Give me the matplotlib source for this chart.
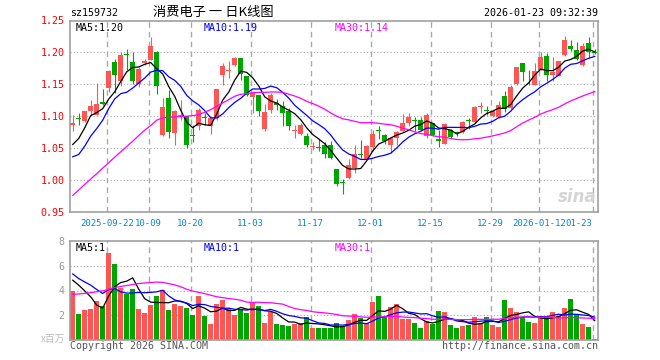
import numpy as np
import matplotlib
matplotlib.use("Agg")
import matplotlib.pyplot as plt

# sz159732 daily k-line, index 0 = 2025-09-12 ... index 87 = 2026-01-23
opens = [1.0865, 1.0963, 1.0922, 1.1089, 1.1026, 1.1224, 1.1443, 1.1854, 1.1547, 1.1969,
         1.1849, 1.1510, 1.1833, 1.1885, 1.2000, 1.0714, 1.1286, 1.0740, 1.1000, 1.1010,
         1.0703, 1.0844, 1.0979, 1.0844, 1.0974, 1.1651, 1.1714, 1.1802, 1.1917, 1.1635,
         1.1297, 1.1338, 1.0802, 1.1104, 1.1208, 1.1167, 1.1078, 1.0776, 1.0729, 1.0698,
         1.0516, 1.0510, 1.0542, 1.0542, 1.0167, 0.9963, 1.0036, 1.0193, 1.0401, 1.0333,
         1.0521, 1.0781, 1.0714, 1.0557, 1.0661, 1.0766, 1.0896, 1.0943, 1.0948, 1.0698,
         1.0896, 1.0646, 1.0573, 1.0792, 1.0745, 1.0750, 1.0943, 1.0906, 1.1141, 1.1099,
         1.1010, 1.0990, 1.1323, 1.1130, 1.1510, 1.1833, 1.1604, 1.1495, 1.1729, 1.1948,
         1.1651, 1.1635, 1.1964, 1.2094, 1.2031, 1.1807, 1.2146, 1.2010]
highs = [1.1026, 1.1052, 1.1089, 1.1260, 1.1521, 1.1427, 1.1729, 1.1896, 1.2000, 1.2052,
         1.2000, 1.1771, 1.1896, 1.2240, 1.2016, 1.1286, 1.1417, 1.1104, 1.1260, 1.1010,
         1.0870, 1.1130, 1.1052, 1.0990, 1.1427, 1.1833, 1.1859, 1.1927, 1.1917, 1.1635,
         1.1365, 1.1338, 1.1198, 1.1365, 1.1271, 1.1245, 1.1130, 1.0870, 1.0896, 1.0740,
         1.0594, 1.0646, 1.0594, 1.0609, 1.0177, 1.0010, 1.0333, 1.0542, 1.0635, 1.0557,
         1.0781, 1.0844, 1.0729, 1.0677, 1.0766, 1.1042, 1.1052, 1.0990, 1.0990, 1.1052,
         1.0896, 1.0792, 1.0896, 1.0802, 1.0766, 1.0922, 1.0974, 1.1156, 1.1219, 1.1156,
         1.1104, 1.1240, 1.1391, 1.1495, 1.1766, 1.1833, 1.1719, 1.1833, 1.2000, 1.1990,
         1.1927, 1.1859, 1.2250, 1.2198, 1.2156, 1.2146, 1.2240, 1.2052]
lows = [1.0766, 1.0870, 1.0906, 1.1026, 1.1026, 1.1182, 1.1375, 1.1365, 1.1469, 1.1729,
        1.1510, 1.1458, 1.1807, 1.1875, 1.1354, 1.0698, 1.0661, 1.0557, 1.0948, 1.0505,
        1.0594, 1.0792, 1.0870, 1.0729, 1.0948, 1.1495, 1.1599, 1.1792, 1.1573, 1.1313,
        1.1052, 1.1000, 1.0766, 1.1052, 1.1104, 1.0844, 1.0792, 1.0661, 1.0714, 1.0521,
        1.0464, 1.0453, 1.0349, 1.0333, 0.9906, 0.9786, 1.0010, 1.0115, 1.0349, 1.0323,
        1.0453, 1.0646, 1.0573, 1.0417, 1.0557, 1.0766, 1.0844, 1.0766, 1.0766, 1.0661,
        1.0698, 1.0521, 1.0573, 1.0661, 1.0698, 1.0740, 1.0802, 1.0896, 1.1052, 1.1026,
        1.0990, 1.0974, 1.1063, 1.1115, 1.1495, 1.1547, 1.1495, 1.1495, 1.1719, 1.1557,
        1.1557, 1.1625, 1.1938, 1.2016, 1.1885, 1.1792, 1.1911, 1.1979]
closes = [1.0891, 1.0953, 1.1078, 1.1167, 1.1198, 1.1198, 1.1703, 1.1651, 1.1964, 1.1958,
          1.1547, 1.1740, 1.1859, 1.2104, 1.1469, 1.1146, 1.0750, 1.1089, 1.1026, 1.0542,
          1.0693, 1.1104, 1.0969, 1.0974, 1.1427, 1.1792, 1.1724, 1.1917, 1.1667, 1.1338,
          1.1365, 1.1089, 1.1063, 1.1338, 1.1182, 1.1052, 1.0844, 1.0786, 1.0870, 1.0542,
          1.0526, 1.0500, 1.0411, 1.0349, 0.9932, 0.9953, 1.0229, 1.0401, 1.0391, 1.0531,
          1.0729, 1.0771, 1.0609, 1.0661, 1.0750, 1.0896, 1.0984, 1.0932, 1.0792, 1.1026,
          1.0714, 1.0609, 1.0885, 1.0677, 1.0734, 1.0906, 1.0932, 1.1146, 1.1151, 1.1089,
          1.1078, 1.1177, 1.1115, 1.1458, 1.1766, 1.1688, 1.1594, 1.1714, 1.1927, 1.1651,
          1.1688, 1.1859, 1.2198, 1.2052, 1.1896, 1.2104, 1.2000, 1.1990]
# volume in millions
volumes = [3.97, 2.10, 2.43, 2.50, 3.15, 2.75, 7.00, 6.10, 4.19, 3.70,
           4.10, 2.50, 2.19, 2.83, 3.55, 4.08, 2.43, 2.90, 2.77, 2.61,
           2.03, 3.55, 1.95, 1.31, 2.88, 3.23, 2.56, 2.03, 2.51, 2.19,
           3.04, 2.75, 1.39, 2.29, 1.31, 1.23, 1.15, 1.33, 1.39, 1.87,
           0.99, 0.99, 0.99, 0.99, 1.39, 1.12, 1.65, 2.11, 1.76, 1.36,
           3.09, 3.55, 1.84, 2.69, 2.88, 1.71, 1.71, 1.39, 0.99, 1.55,
           1.33, 2.35, 2.27, 1.23, 0.99, 1.15, 1.23, 1.87, 1.39, 1.87,
           1.23, 1.07, 3.23, 2.59, 2.27, 1.87, 1.47, 1.39, 1.95, 1.95,
           2.27, 1.95, 2.59, 3.31, 2.11, 1.31, 1.07, 0.11]

ma5_head = [1.0557, 1.0651, 1.0818, 1.1010]
ma10_head = [1.0365, 1.0401, 1.0531, 1.0688, 1.0807, 1.0938, 1.1120, 1.1271, 1.1354]
ma30_head = [0.9760, 0.9844, 0.9932, 1.0016, 1.0099, 1.0188, 1.0271, 1.0359, 1.0443, 1.0526,
             1.0609, 1.0698, 1.0781, 1.0854, 1.0938, 1.0974, 1.0984, 1.0990, 1.0995, 1.1000,
             1.1010, 1.1026, 1.1063, 1.1104, 1.1156, 1.1208, 1.1260, 1.1313, 1.1344]
vma5_head = [4.83, 4.43, 3.97, 3.49]
vma10_head = [5.33, 4.96, 4.69, 4.43, 4.08, 3.76, 4.08, 4.16, 3.89]
vma30_head = [3.70, 3.72, 3.77, 3.83, 3.90, 3.97, 4.10, 4.24, 4.32, 4.40,
              4.48, 4.56, 4.60, 4.64, 4.68, 4.65, 4.55, 4.45, 4.30, 4.10,
              3.95, 3.85, 3.75, 3.62, 3.50, 3.43, 3.35, 3.30, 3.22]

tick_idx = [6, 13, 20, 30, 40, 50, 60, 70, 78, 87]
tick_labels = ["2025-09-22", "10-09", "10-20", "11-03", "11-17", "12-01",
               "12-15", "12-29", "2026-01-12", "01-23"]
price_ticks = [0.95, 1.00, 1.05, 1.10, 1.15, 1.20, 1.25]
vol_ticks = [2, 4, 6, 8]

RED = "#ff5555"
GREEN = "#00a600"
GRID = "#aaaaaa"
FRAME = "#a0a0a0"

plt.rcParams['font.family'] = ['DejaVu Sans Mono', 'Noto Sans CJK SC']
plt.rcParams['font.size'] = 7.2


def moving_avg(vals, n, head):
    vals = np.asarray(vals)
    tail = [vals[i - n + 1:i + 1].mean() for i in range(n - 1, len(vals))]
    return np.r_[head, tail]


def style_axes(ax):
    for s in ax.spines.values():
        s.set_color(FRAME)
        s.set_linewidth(1.2)
    ax.tick_params(length=0, pad=4)
    for t in tick_idx:
        ax.axvline(t - 0.33, color=GRID, lw=1, dashes=(4, 3), zorder=0)


W, H = 660, 360
fig = plt.figure(figsize=(6.6, 3.6), dpi=100)
L, R = 70, 597.7
ax = fig.add_axes([L / W, 1 - 212 / H, (R - L) / W, 191.5 / H])
axv = fig.add_axes([L / W, 1 - 340.3 / H, (R - L) / W, 99.6 / H])

x = np.arange(len(closes))
o, h, l, c = map(np.asarray, (opens, highs, lows, closes))
cols = [RED if cc >= oo else GREEN for oo, cc in zip(o, c)]

# price panel
style_axes(ax)
ax.vlines(x, l, h, colors=cols, lw=0.8, zorder=2)
body = np.maximum(np.abs(c - o), 0.0012)
ax.bar(x, body, bottom=np.minimum(o, c), width=0.8, color=cols, lw=0, zorder=3)
ax.plot(x, moving_avg(closes, 5, ma5_head), color="black", lw=0.9, zorder=4)
ax.plot(x, moving_avg(closes, 10, ma10_head), color="#0000ff", lw=0.9, zorder=4)
ax.plot(x, moving_avg(closes, 30, ma30_head), color="#ff00ff", lw=0.9, zorder=4)
for v in price_ticks[1:-1]:
    ax.axhline(v, color=GRID, lw=0.8, dashes=(1, 2), zorder=0)
ax.set_ylim(0.95, 1.25)
ax.set_xlim(-0.45, 87.5)
ax.set_yticks(price_ticks, labels=[f"{v:.2f}" for v in price_ticks])
ax.tick_params(axis="y", labelcolor="#ff0000")
ax.set_xticks([t - 0.33 for t in tick_idx], labels=tick_labels)
ax.tick_params(axis="x", labelcolor="#0c84d0", pad=5, labelsize=6.5)
# last date sits at the right edge of the frame
last = ax.get_xticklabels()[-1]
last.set_ha("right")
last.set_x(87.5)

ax.text(0.01, 0.985, "MA5:1.20", transform=ax.transAxes, va="top", color="black")
ax.text(0.254, 0.985, "MA10:1.19", transform=ax.transAxes, va="top", color="#0000ff")
ax.text(0.502, 0.985, "MA30:1.14", transform=ax.transAxes, va="top", color="#ff00ff")
ax.text(0.997, 0.03, "sina", transform=ax.transAxes, ha="right", va="bottom",
        fontsize=12, fontweight="bold", style="italic", color="#d4d4d4",
        family="DejaVu Sans")

# volume panel
style_axes(axv)
axv.bar(x, volumes, width=0.8, color=cols, lw=0, zorder=2)
axv.plot(x, moving_avg(volumes, 5, vma5_head), color="black", lw=0.9, zorder=4)
axv.plot(x, moving_avg(volumes, 10, vma10_head), color="#0000ff", lw=0.9, zorder=4)
axv.plot(x, moving_avg(volumes, 30, vma30_head), color="#ff00ff", lw=0.9, zorder=4)
for v in vol_ticks[:-1]:
    axv.axhline(v, color=GRID, lw=0.8, dashes=(1, 2), zorder=0)
axv.set_ylim(0, 8)
axv.set_xlim(-0.45, 87.5)
axv.set_yticks(vol_ticks, labels=[str(v) for v in vol_ticks])
axv.tick_params(axis="y", labelcolor="#999999")
axv.set_xticks([])
axv.text(0.01, 0.975, "MA5:1", transform=axv.transAxes, va="top", color="black")
axv.text(0.254, 0.975, "MA10:1", transform=axv.transAxes, va="top", color="#0000ff")
axv.text(0.502, 0.975, "MA30:1", transform=axv.transAxes, va="top", color="#ff00ff")

# header and footer
fig.text(L / W, 1 - 13 / H, "sz159732", va="center", color="black")
fig.text(213 / W, 1 - 12 / H, "消费电子 一 日K线图", ha="center", va="center",
         fontsize=9.5, family=["Noto Sans CJK SC", "DejaVu Sans"])
fig.text(R / W, 1 - 13 / H, "2026-01-23 09:32:39", ha="right", va="center")
fig.text(65 / W, 1 - 339 / H, "x百万", ha="right", va="center", color="#bbbbbb",
         family=["Noto Sans CJK SC", "DejaVu Sans"], fontsize=7)
fig.text(L / W, 1 - 346 / H, "Copyright 2026 SINA.COM", va="center", color="#555555")
fig.text(R / W, 1 - 346 / H, "http://finance.sina.com.cn", ha="right", va="center",
         color="#555555")

fig.savefig("out.png", dpi=100)
